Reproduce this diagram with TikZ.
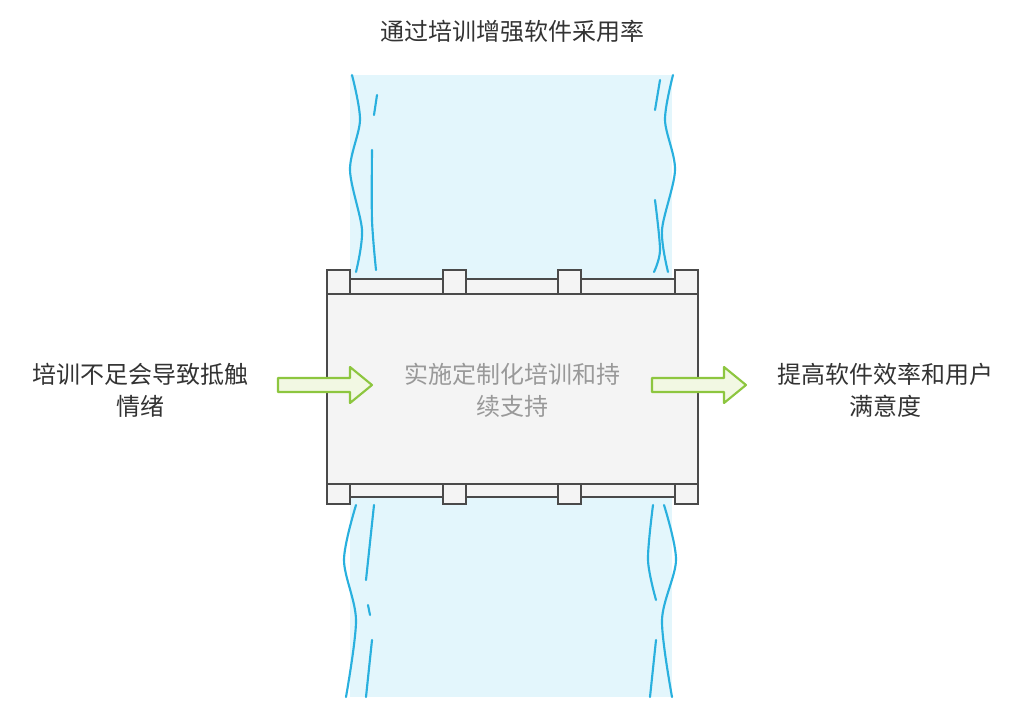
\documentclass[tikz,border=0pt]{standalone}
\usepackage{fontspec}
\setmainfont{Noto Sans CJK SC}
\usetikzlibrary{positioning}
\definecolor{riverblue}{HTML}{E3F6FC}
\definecolor{bankblue}{HTML}{29B0DE}
\definecolor{deckgray}{HTML}{F4F4F4}
\definecolor{edgegray}{HTML}{4A4A4A}
\definecolor{arrowgreen}{HTML}{8DC63F}
\definecolor{arrowfill}{HTML}{F2F8E3}
\tikzset{
  bank/.style={bankblue, line width=1.6pt, line cap=round},
  plank/.style={fill=deckgray, draw=edgegray, line width=1.4pt},
  flow/.style={fill=arrowfill, draw=arrowgreen, line width=1.6pt, line join=round},
  label/.style={font=\fontsize{18}{24}\selectfont, text=black!80, align=center}
}
\begin{document}
\begin{tikzpicture}[x=0.75pt, y=-0.75pt]
\useasboundingbox (0,0) rectangle (1024,715);

% river
\fill[riverblue] (350,75) rectangle (672,697);
\draw[bank] plot[smooth] coordinates {(352,75) (360,120) (350,170) (362,230) (356,272)};
\draw[bank] plot[smooth] coordinates {(356,505) (344,560) (356,620) (346,697)};
\draw[bank] plot[smooth] coordinates {(673,75) (665,120) (675,170) (662,230) (668,272)};
\draw[bank] plot[smooth] coordinates {(664,505) (676,560) (662,620) (672,697)};
\draw[bank] plot[smooth] coordinates {(377,95) (374,115)};
\draw[bank] plot[smooth] coordinates {(372,150) (372,220) (376,270)};
\draw[bank] plot[smooth] coordinates {(374,505) (366,580)};
\draw[bank] plot[smooth] coordinates {(368,605) (370,615)};
\draw[bank] plot[smooth] coordinates {(372,640) (366,697)};
\draw[bank] plot[smooth] coordinates {(660,80) (655,110)};
\draw[bank] plot[smooth] coordinates {(655,200) (660,250) (654,272)};
\draw[bank] plot[smooth] coordinates {(653,505) (648,560) (656,600)};
\draw[bank] plot[smooth] coordinates {(656,640) (650,697)};

% bridge
\draw[plank] (327,294) rectangle (698,484);
\draw[plank] (327,279) rectangle (698,294);
\draw[plank] (327,484) rectangle (698,497);
\foreach \px in {327,443,558,675} {
  \draw[plank] (\px,270) rectangle ++(23,24);
  \draw[plank] (\px,484) rectangle ++(23,20);
}

% arrows
\draw[flow] (278,378) -- (350,378) -- (350,367) -- (372,385) -- (350,403) -- (350,392) -- (278,392) -- cycle;
\draw[flow] (652,378) -- (724,378) -- (724,367) -- (746,385) -- (724,403) -- (724,392) -- (652,392) -- cycle;

% texts
\node[label] (title) at (512,31) {通过培训增强软件采用率};
\node[label] (cause) at (140,390) {培训不足会导致抵触\\情绪};
\node[label, text=black!40] (action) at (512,390) {实施定制化培训和持\\续支持};
\node[label] (result) at (885,390) {提高软件效率和用户\\满意度};
\end{tikzpicture}
\end{document}
